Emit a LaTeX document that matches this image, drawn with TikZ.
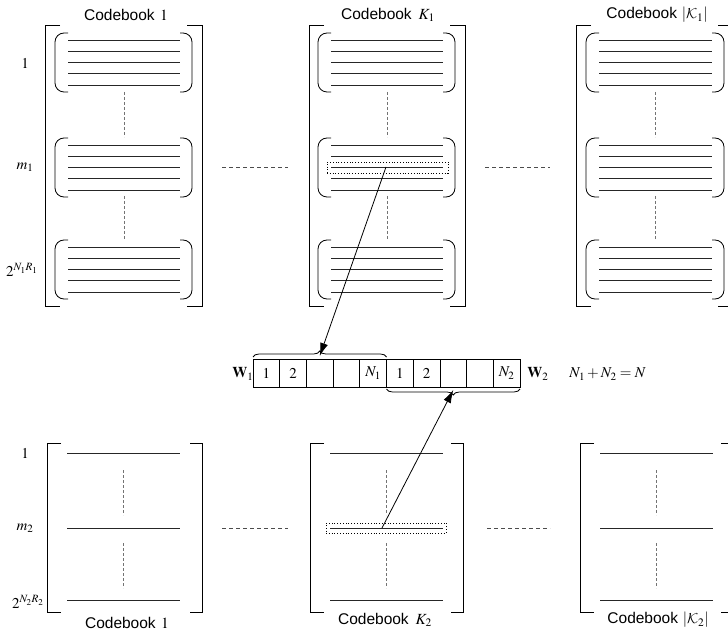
\documentclass[tikz,border=0pt]{standalone}
\usepackage{mathptmx}
\DeclareMathAlphabet{\mathcal}{OMS}{cmsy}{m}{n}
\usepackage[no-math]{fontspec}
\setmainfont{Liberation Serif}
\setsansfont{Liberation Sans}
\usetikzlibrary{arrows.meta,decorations.pathreplacing,calc}
\begin{document}
\begin{tikzpicture}[x=1pt,y=-1pt,line width=0.8pt,
  cbl/.style={font=\sffamily\fontsize{15.5}{18}\selectfont, inner sep=0pt},
  lbl/.style={font=\fontsize{15}{18}\selectfont, inner sep=0pt},
  cwline/.style={draw=black!85, line width=0.9pt},
  vdash/.style={draw=black!55, dash pattern=on 3pt off 2pt, line width=0.8pt},
  hdash/.style={draw=black!70, dash pattern=on 4pt off 3pt, line width=0.7pt},
  cell/.style={draw, minimum width=26.7pt, minimum height=28pt, inner sep=0pt, outer sep=0pt, font=\fontsize{15}{18}\selectfont},
  hlbox/.style={draw, dotted, line width=0.8pt, inner sep=0pt},
  arr/.style={-{Latex[length=13pt,width=8pt]}, line width=0.8pt}
]
\useasboundingbox (0,0) rectangle (728,644);

% ---------- top codebooks ----------
\foreach \L/\R/\a/\b in {45/202/68/180, 309/465/331/443, 576/733/599/712}{
  \draw (\L+15,25) -- (\L,25) -- (\L,306) -- (\L+15,306);
  \draw (\R-15,25) -- (\R,25) -- (\R,306) -- (\R-15,306);
  \foreach \Y in {40,145,247}{
    \foreach \k in {0,...,4}{
      \draw[cwline] (\a,\Y+11.3*\k) -- (\b,\Y+11.3*\k);
    }
    \draw[rounded corners=9pt] (\a,\Y-7) -- (\a-13,\Y-7) -- (\a-13,\Y+52) -- (\a,\Y+52);
    \draw[rounded corners=9pt] (\b,\Y-7) -- (\b+12,\Y-7) -- (\b+12,\Y+52) -- (\b,\Y+52);
  }
  \draw[vdash] ({(\a+\b)/2},92) -- ({(\a+\b)/2},137);
  \draw[vdash] ({(\a+\b)/2},196) -- ({(\a+\b)/2},240);
}

\node[cbl] (t1) at (126,15) {Codebook\hspace{0.35em}$1$};
\node[cbl] (t2) at (388,15) {Codebook\hspace{0.45em}$K_1$};
\node[cbl] (t3) at (657,15) {Codebook\hspace{0.3em}$\left|\mathcal{K}_1\right|$};

\node[lbl] (r1) at (25,63) {$1$};
\node[lbl] (rm1) at (25,167) {$m_1$};
\node[lbl] (rn1) at (22,270) {$2^{N_1R_1}$};

\draw[hdash] (222,167) -- (288,167);
\draw[hdash] (485,167) -- (550,167);

\node[hlbox, minimum width=121pt, minimum height=11pt] (hl1) at (387.5,167.5) {};
\coordinate (s1) at (386,167);

% ---------- middle row ----------
\foreach \j/\t in {0/$1$,1/$2$,2/,3/,4/$N_1$,5/$1$,6/$2$,7/,8/,9/$N_2$}{
  \node[cell] (c\j) at ({253+26.7*\j+13.35},373) {\t};
}
\node[lbl] (w1) at (243,374) {$\mathbf{W}_1$};
\node[lbl] (w2) at (538,374) {$\mathbf{W}_2$};
\node[lbl, anchor=west] (eq) at (569,374) {$N_1+N_2=N$};

\draw[decorate, decoration={brace, amplitude=6pt}] ([yshift=2pt]c0.north west) -- ([yshift=2pt]c4.north east);
\coordinate (b1) at ($([yshift=2pt]c0.north west)!0.5!([yshift=2pt]c4.north east)$);
\draw[decorate, decoration={brace, amplitude=6pt}] ([yshift=-2pt]c9.south east) -- ([yshift=-2pt]c5.south west);
\coordinate (b2) at ($([yshift=-2pt]c9.south east)!0.5!([yshift=-2pt]c5.south west)$);

% ---------- bottom codebooks ----------
\foreach \L/\R/\a/\b in {47/202/67/180, 310/463/330/443, 580/733/600/713}{
  \draw (\L+14,443) -- (\L,443) -- (\L,612) -- (\L+14,612);
  \draw (\R-12,443) -- (\R,443) -- (\R,612) -- (\R-12,612);
  \foreach \Y in {453,528,600}{
    \draw[cwline] (\a,\Y) -- (\b,\Y);
  }
  \draw[vdash] ({(\a+\b)/2},470) -- ({(\a+\b)/2},515);
  \draw[vdash] ({(\a+\b)/2},543) -- ({(\a+\b)/2},588);
}

\node[cbl] (u1) at (127,623) {Codebook\hspace{0.35em}$1$};
\node[cbl] (u2) at (385,620) {Codebook\hspace{0.45em}$K_2$};
\node[cbl] (u3) at (658,620) {Codebook\hspace{0.3em}$\left|\mathcal{K}_2\right|$};

\node[lbl] (q1) at (25,453) {$1$};
\node[lbl] (qm2) at (25,528) {$m_2$};
\node[lbl] (qn2) at (28,602) {$2^{N_2R_2}$};

\draw[hdash] (222,528) -- (288,528);
\draw[hdash] (487,528) -- (550,528);

\node[hlbox, minimum width=120pt, minimum height=10pt] (hl2) at (386,528) {};
\coordinate (s2) at (382,528);

% ---------- arrows ----------
\draw[arr] (s1) -- ([yshift=1pt]b1);
\draw[arr] (s2) -- ([yshift=-1pt]b2);
\end{tikzpicture}
\end{document}
